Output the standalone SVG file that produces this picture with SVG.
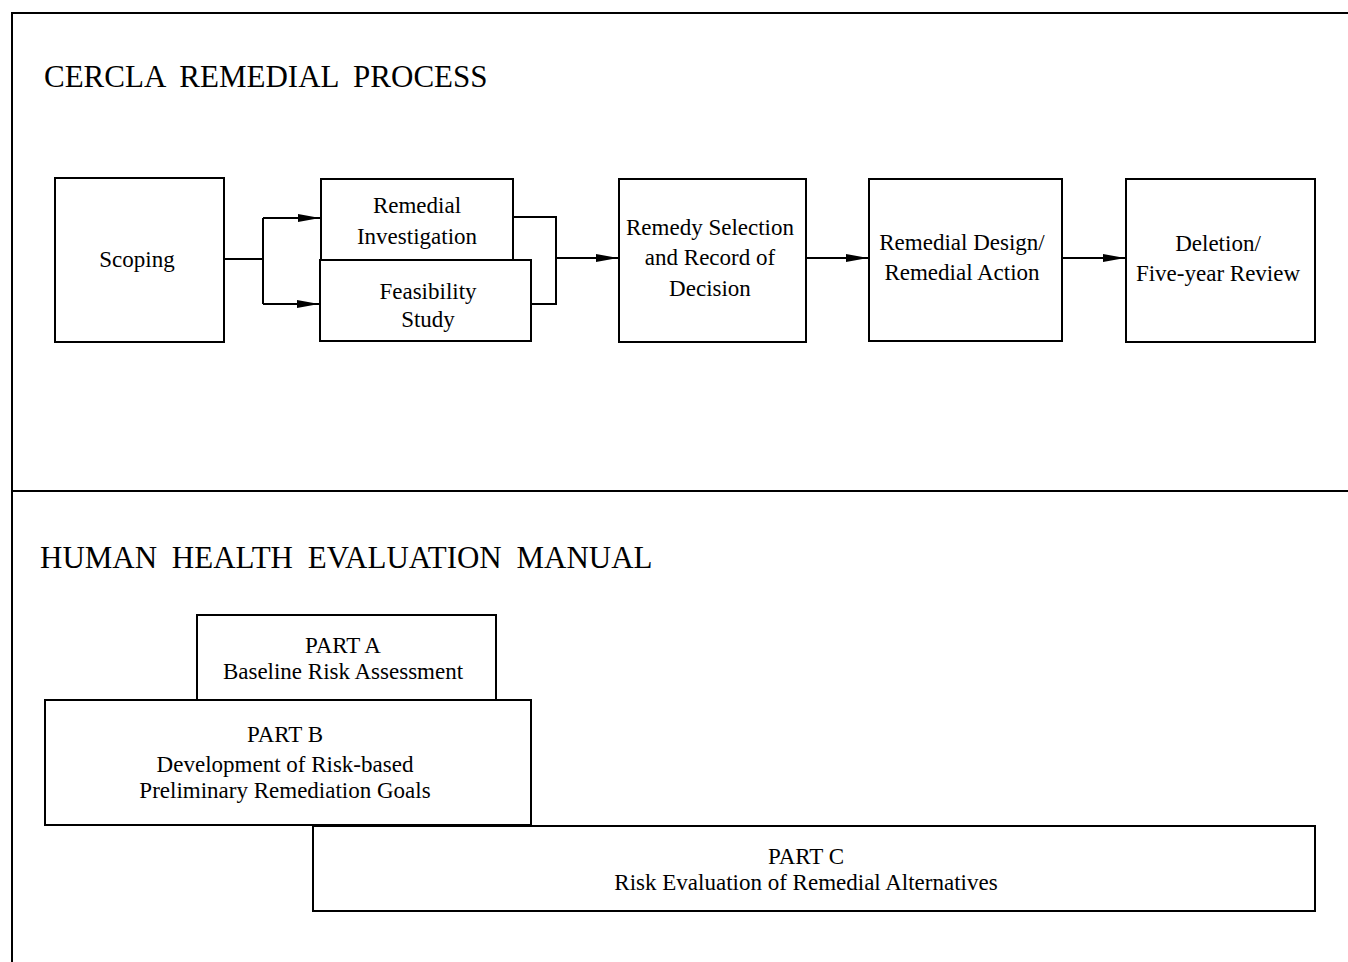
<svg xmlns="http://www.w3.org/2000/svg" width="1348" height="962" viewBox="0 0 1348 962">
<style>
.box{fill:#fff;stroke:#000;stroke-width:2}
.frame{fill:none;stroke:#000;stroke-width:2}
.t{font-family:"Liberation Serif","Times New Roman",serif;font-size:23px;fill:#000;text-anchor:middle}
.h{font-family:"Liberation Serif","Times New Roman",serif;font-size:31px;fill:#000;word-spacing:7px}
.c{fill:none;stroke:#000;stroke-width:2}
</style>
<defs>
<marker id="ah" markerWidth="22" markerHeight="10" refX="22" refY="5" orient="auto" markerUnits="userSpaceOnUse">
<path d="M0,1 L22,5 L0,9 Z" fill="#000"/>
</marker>
</defs>
<rect width="1348" height="962" fill="#fff"/>
<g id="frame">
<path class="frame" d="M12,962 L12,13 L1348,13"/>
<path class="frame" d="M12,491 L1348,491"/>
</g>
<g id="title-cercla"><text class="h" x="44" y="87">CERCLA REMEDIAL PROCESS</text></g>
<g id="title-hhem"><text class="h" x="40" y="568">HUMAN HEALTH EVALUATION MANUAL</text></g>

<g id="scoping"><rect class="box" x="55" y="178" width="169" height="164"/>
<text class="t" x="137" y="267">Scoping</text></g>
<g id="ri"><rect class="box" x="321" y="179" width="192" height="81"/>
<text class="t" x="417" y="213">Remedial</text><text class="t" x="417" y="244">Investigation</text></g>
<g id="fs"><rect class="box" x="320" y="260" width="211" height="81"/>
<text class="t" x="428" y="299">Feasibility</text><text class="t" x="428" y="327">Study</text></g>
<g id="remedy"><rect class="box" x="619" y="179" width="187" height="163"/>
<text class="t" x="710" y="235">Remedy Selection</text><text class="t" x="710" y="265">and Record of</text><text class="t" x="710" y="296">Decision</text></g>
<g id="rdra"><rect class="box" x="869" y="179" width="193" height="162"/>
<text class="t" x="962" y="250">Remedial Design/</text><text class="t" x="962" y="280">Remedial Action</text></g>
<g id="deletion"><rect class="box" x="1126" y="179" width="189" height="163"/>
<text class="t" x="1218" y="251">Deletion/</text><text class="t" x="1218" y="281">Five-year Review</text></g>

<g id="connectors">
<path class="c" d="M224,259 L263,259"/>
<path class="c" d="M263,304 L263,218"/>
<path class="c" d="M263,218 L320,218" marker-end="url(#ah)"/>
<path class="c" d="M263,304 L319,304" marker-end="url(#ah)"/>
<path class="c" d="M513,217 L556,217 L556,304 L531,304"/>
<path class="c" d="M556,258 L618,258" marker-end="url(#ah)"/>
<path class="c" d="M806,258 L868,258" marker-end="url(#ah)"/>
<path class="c" d="M1062,258 L1125,258" marker-end="url(#ah)"/>
</g>

<g id="partA"><rect class="box" x="197" y="615" width="299" height="85"/>
<text class="t" x="343" y="653">PART A</text><text class="t" x="343" y="679">Baseline Risk Assessment</text></g>
<g id="partB"><rect class="box" x="45" y="700" width="486" height="125"/>
<text class="t" x="285" y="742">PART B</text><text class="t" x="285" y="772">Development of Risk-based</text><text class="t" x="285" y="798">Preliminary Remediation Goals</text></g>
<g id="partC"><rect class="box" x="313" y="826" width="1002" height="85"/>
<text class="t" x="806" y="864">PART C</text><text class="t" x="806" y="890">Risk Evaluation of Remedial Alternatives</text></g>
</svg>
